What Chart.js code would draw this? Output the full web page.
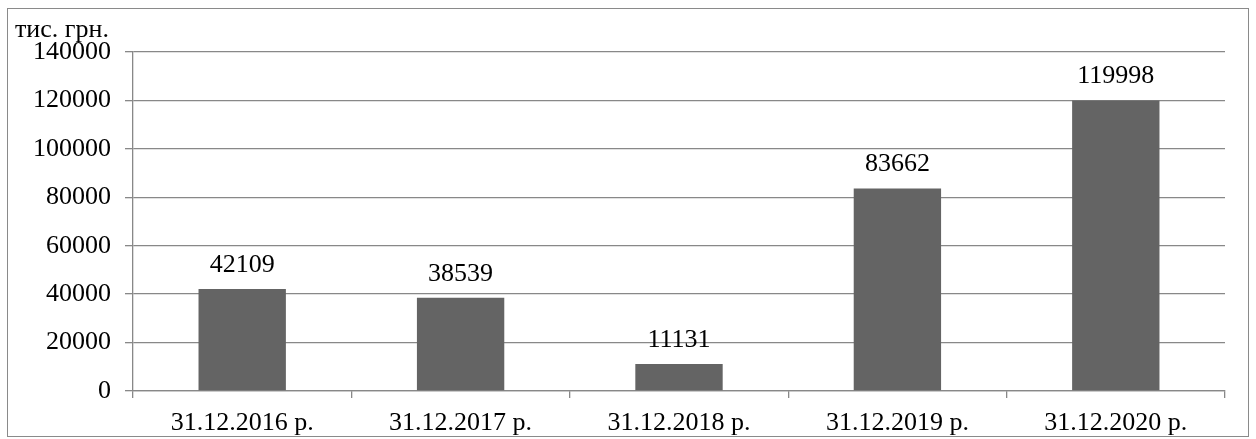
<!DOCTYPE html>
<html><head><meta charset="utf-8">
<script src="https://cdn.jsdelivr.net/npm/chart.js@4"></script>
<style>
html,body{margin:0;padding:0;background:#fff;}
#wrap{position:relative;width:1256px;height:439px;}
#frame{position:absolute;left:7px;top:8px;width:1242px;height:429px;border:1.5px solid #8a8a8a;box-sizing:border-box;pointer-events:none;}
canvas{position:absolute;left:0;top:0;}
</style></head>
<body>
<div id="wrap"><canvas id="c" width="1256" height="439"></canvas><div id="frame"></div></div>
<script>
const categories = ["31.12.2016 р.","31.12.2017 р.","31.12.2018 р.","31.12.2019 р.","31.12.2020 р."];
const values = [42109, 38539, 11131, 83662, 119998];
const unitLabel = "тис. грн.";
const yMin = 0, yMax = 140000, yStep = 20000;

const FONT = '"Liberation Serif", "Times New Roman", Times, serif';

const labelsPlugin = {
  id: 'valueLabels',
  afterDatasetsDraw(chart) {
    const ctx = chart.ctx;
    const meta = chart.getDatasetMeta(0);
    ctx.save();
    ctx.font = "26px " + FONT;
    ctx.fillStyle = "#000";
    ctx.textAlign = "center";
    ctx.textBaseline = "alphabetic";
    meta.data.forEach((bar, i) => {
      ctx.fillText(String(values[i]), bar.x, bar.y - 17);
    });
    ctx.textAlign = "left";
    ctx.fillText(unitLabel, chart.chartArea.left - 118, chart.chartArea.top - 15);
    ctx.restore();
  }
};

new Chart(document.getElementById('c'), {
  type: 'bar',
  data: {
    labels: categories,
    datasets: [{
      data: values,
      backgroundColor: '#646464',
      borderWidth: 0,
      barPercentage: 0.4,
      categoryPercentage: 1.0
    }]
  },
  options: {
    responsive: false,
    animation: false,
    devicePixelRatio: 1,
    layout: { padding: { left: 0, top: 52, right: 31, bottom: 0 } },
    plugins: { legend: { display: false }, tooltip: { enabled: false } },
    scales: {
      y: {
        min: yMin, max: yMax,
        ticks: { stepSize: yStep, color: '#000', font: { family: FONT, size: 26 }, padding: 14,
                 callback: v => String(v) },
        grid: { color: '#888', lineWidth: 1.3, tickLength: 8, drawTicks: true },
        border: { color: '#888', width: 1.3 },
        afterFit(s) { s.width = 133; }
      },
      x: {
        offset: true,
        ticks: { color: '#000', font: { family: FONT, size: 26 }, padding: 10, maxRotation: 0, autoSkip: false },
        grid: { offset: true, drawOnChartArea: false, drawTicks: true, tickLength: 7, color: '#888', lineWidth: 1.3 },
        border: { color: '#888', width: 1.3 },
        afterFit(s) { s.height = 48; }
      }
    }
  },
  plugins: [labelsPlugin]
});
</script>
</body></html>
